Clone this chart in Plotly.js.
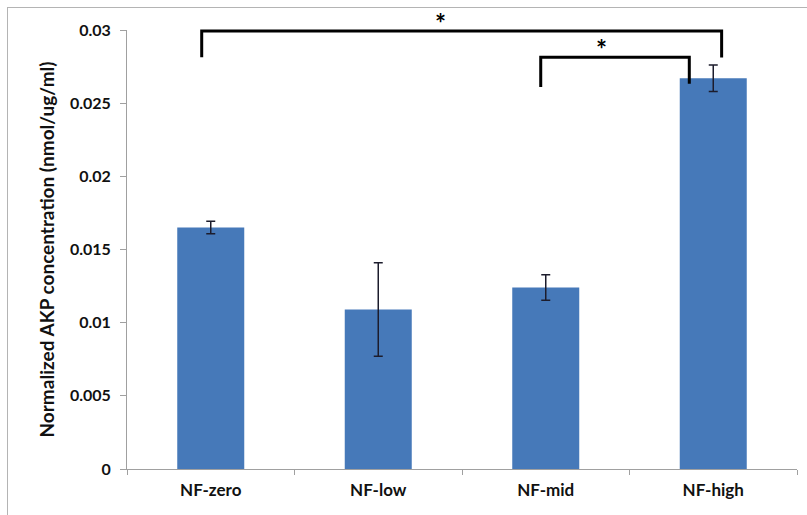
<!DOCTYPE html>
<html>
<head>
<meta charset="utf-8">
<script src="https://cdn.plot.ly/plotly-3.0.1.min.js"></script>
<style>
  html, body { margin: 0; padding: 0; background: #fff; }
  #wrap { position: relative; width: 807px; height: 515px; overflow: hidden; }
  #chart { position: absolute; left: 0; top: 0; width: 807px; height: 515px; }
  #frame { position: absolute; left: 7px; top: 7px; width: 820px; height: 530px;
           border-left: 1px solid #b4b4b4; border-top: 1px solid #b4b4b4; pointer-events: none; }
</style>
</head>
<body>
<div id="wrap">
  <div id="chart"></div>
  <div id="frame"></div>
</div>
<script>
// ---- data ----
const categories = ["NF-zero", "NF-low", "NF-mid", "NF-high"];
const akpValues  = [0.0165, 0.0109, 0.0124, 0.0267];
const akpErrors  = [0.00043, 0.0032, 0.00087, 0.0009];
const yTickVals  = [0, 0.005, 0.01, 0.015, 0.02, 0.025, 0.03];
const yTickText  = ["0", "0.005", "0.01", "0.015", "0.02", "0.025", "0.03"];
const yTitle     = "Normalized AKP concentration (nmol/ug/ml)";
// significance brackets: [leftX, rightX, barY, leftFootY, rightFootY] in data units
const bracketBig   = [-0.054, 3.05, 0.02993, 0.02814, 0.02812];
const bracketSmall = [1.97, 2.857, 0.02814, 0.0261, 0.02633];
const sigLabels    = ["*", "*"];

const yMax = 0.03;
const fontFam = "Lato, 'Open Sans', sans-serif";

function bracketPath(b) {
  const p = v => v / yMax;   // data -> paper fraction (y range starts at 0)
  return {
    type: "path", xref: "x", yref: "paper",
    path: `M ${b[0]} ${p(b[3])} L ${b[0]} ${p(b[2])} L ${b[1]} ${p(b[2])} L ${b[1]} ${p(b[4])}`,
    line: { color: "#000", width: 3 }
  };
}

const trace = {
  type: "bar",
  x: categories,
  y: akpValues,
  width: 0.4,
  marker: { color: "#4679b9", line: { width: 0 } },
  error_y: { type: "data", array: akpErrors, visible: true, color: "#1c1c2c", thickness: 1.5, width: 4.5 },
  hoverinfo: "none"
};

const layout = {
  width: 807, height: 515,
  margin: { l: 127, r: 10, t: 29.5, b: 46, pad: 0 },
  paper_bgcolor: "#fff", plot_bgcolor: "#fff",
  showlegend: false,
  font: { family: fontFam, color: "#000" },
  xaxis: {
    type: "category",
    showline: true, linecolor: "#a0a0a0", linewidth: 1,
    ticks: "outside", tickson: "boundaries", ticklen: 5, tickcolor: "#a0a0a0",
    showgrid: false, zeroline: false,
    tickfont: { family: fontFam, size: 17, weight: "bold", color: "#111" },
    ticklabelstandoff: 6
  },
  yaxis: {
    range: [0, yMax],
    tickvals: yTickVals, ticktext: yTickText,
    showline: true, linecolor: "#a0a0a0", linewidth: 1,
    ticks: "outside", ticklen: 6, tickcolor: "#a0a0a0",
    showgrid: false, zeroline: false,
    tickfont: { family: fontFam, size: 16, weight: "bold", color: "#111" },
    ticklabelstandoff: 6,
    title: { text: yTitle, font: { family: fontFam, size: 19, weight: "bold", color: "#111" }, standoff: 10 }
  },
  shapes: [bracketPath(bracketBig), bracketPath(bracketSmall)],
  annotations: [
    { x: 1.369, y: bracketBig[2] / yMax, xref: "x", yref: "paper", text: sigLabels[0],
      showarrow: false, yanchor: "bottom", yshift: -10, font: { family: fontFam, size: 26, weight: "bold", color: "#000" } },
    { x: 2.334, y: bracketSmall[2] / yMax, xref: "x", yref: "paper", text: sigLabels[1],
      showarrow: false, yanchor: "bottom", yshift: -10, font: { family: fontFam, size: 26, weight: "bold", color: "#000" } }
  ]
};

Plotly.newPlot("chart", [trace], layout, { staticPlot: true, displayModeBar: false });
</script>
</body>
</html>
